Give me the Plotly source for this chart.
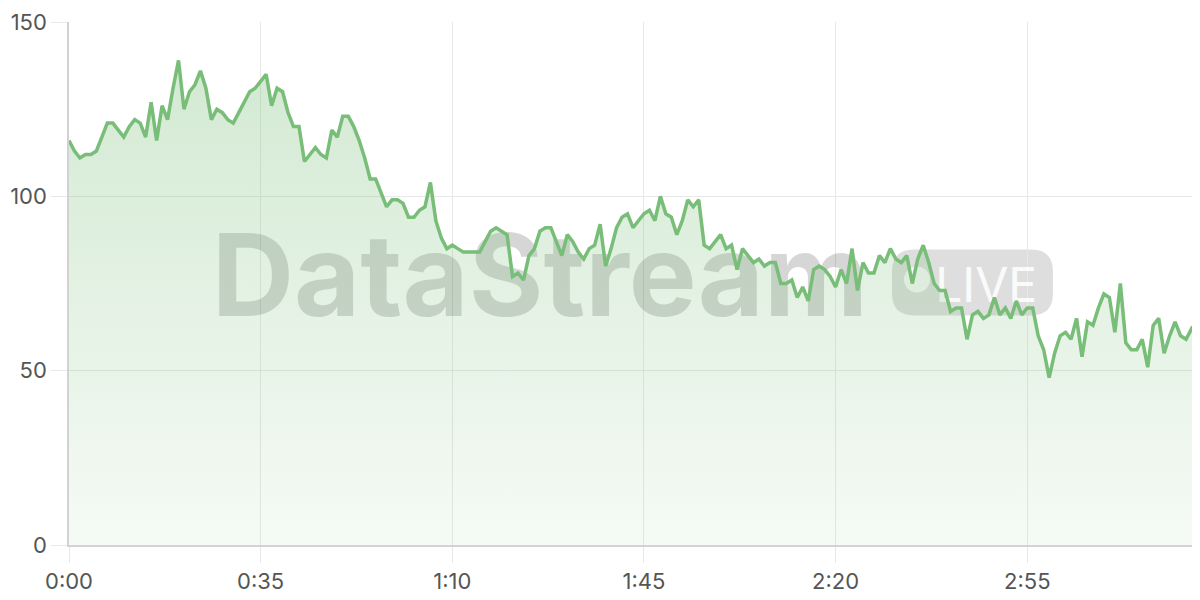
import plotly.graph_objects as go

# seconds since start, one reading per second
seconds = list(range(207))

# readings taken off the stream
readings = [
    116, 113, 111, 112, 112, 113, 117, 121, 121, 119, 117, 120, 122, 121, 117, 127, 116, 126, 122, 131,
    139, 125, 130, 132, 136, 131, 122, 125, 124, 122, 121, 124, 127, 130, 131, 133,
    135, 126, 131, 130, 124, 120, 120, 110, 112, 114, 112, 111, 119, 117, 123, 123, 120, 116, 111, 105,
    105, 101, 97, 99, 99, 98, 94, 94, 96, 97, 104, 93, 88, 85,
    86, 85, 84, 84, 84, 84, 87, 90, 91, 90, 89, 77, 78, 76, 83, 85, 90, 91, 91, 87,
    83, 89, 87, 84, 82, 85, 86, 92, 80, 85, 91, 94, 95, 91, 93,
    95, 96, 93, 100, 95, 94, 89, 93, 99, 97, 99, 86, 85, 87, 89, 85, 86, 79, 85, 83,
    81, 82, 80, 81, 81, 75, 75, 76, 71, 74, 70, 79, 80, 79, 77,
    74, 79, 75, 85, 73, 81, 78, 78, 83, 81, 85, 82, 81, 83, 75, 82, 86, 81, 75, 73,
    73, 67, 68, 68, 59, 66, 67, 65, 66, 71, 66, 68,
    65, 70, 66, 68, 68, 60, 56, 48, 55, 60, 61, 59, 65, 54, 64, 63, 68, 72, 71, 61,
    75, 58, 56, 56, 59, 51, 63, 65, 55, 60, 64, 60, 59, 62, 60,
]

tick_vals = [0, 35, 70, 105, 140, 175]
tick_text = ["0:00", "0:35", "1:10", "1:45", "2:20", "2:55"]
y_ticks = [0, 50, 100, 150]

GREEN = "#78bd78"
FONT = "Inter, Roboto, 'Noto Sans', sans-serif"

fig = go.Figure()

# watermark text, drawn as traces so the data line sits on top
fig.add_trace(
    go.Scatter(
        x=[86.0],
        y=[73.8],
        mode="text",
        text=["DataStream"],
        textposition="middle center",
        textfont=dict(family=FONT, size=114, color="rgba(0,0,0,0.16)", weight="bold"),
        hoverinfo="skip",
        showlegend=False,
    )
)
fig.add_trace(
    go.Scatter(
        x=[167.5],
        y=[73],
        mode="text",
        text=["LIVE"],
        textposition="middle center",
        textfont=dict(family=FONT, size=48, color="rgba(255,255,255,0.9)"),
        hoverinfo="skip",
        showlegend=False,
    )
)

# main area line
fig.add_trace(
    go.Scatter(
        x=seconds,
        y=readings,
        mode="lines",
        line=dict(color=GREEN, width=3.5),
        fill="tozeroy",
        fillgradient=dict(
            type="vertical",
            colorscale=[[0, "rgba(120,189,120,0.07)"], [1, "rgba(120,189,120,0.33)"]],
            start=0,
            stop=140,
        ),
        showlegend=False,
    )
)

# LIVE badge (rounded rect) + dot, paper coords
x0, x1 = 0.7296, 0.8723
y0, y1 = 0.4389, 0.5649
rx, ry = 0.0195, 0.042
badge = (
    f"M {x0 + rx},{y0} L {x1 - rx},{y0} Q {x1},{y0} {x1},{y0 + ry} "
    f"L {x1},{y1 - ry} Q {x1},{y1} {x1 - rx},{y1} "
    f"L {x0 + rx},{y1} Q {x0},{y1} {x0},{y1 - ry} "
    f"L {x0},{y0 + ry} Q {x0},{y0} {x0 + rx},{y0} Z"
)

fig.update_layout(
    width=1200,
    height=600,
    margin=dict(l=61, r=11, t=14, b=63),
    paper_bgcolor="white",
    plot_bgcolor="white",
    showlegend=False,
    shapes=[
        dict(
            type="path",
            path=badge,
            xref="paper",
            yref="paper",
            fillcolor="rgba(0,0,0,0.13)",
            line=dict(width=0),
            layer="below",
        ),
        dict(
            type="circle",
            xref="paper",
            yref="paper",
            x0=0.7402,
            x1=0.7633,
            y0=0.4828,
            y1=0.5324,
            fillcolor="rgba(255,255,255,0.8)",
            line=dict(width=0),
            layer="below",
        ),
    ],
)

fig.update_xaxes(
    range=[0, 206],
    tickvals=tick_vals,
    ticktext=tick_text,
    showgrid=True,
    gridcolor="#e8e8e8",
    gridwidth=1,
    ticks="outside",
    ticklen=16,
    tickcolor="#e8e8e8",
    showline=True,
    linecolor="#d2d2d2",
    linewidth=1.5,
    zeroline=False,
    automargin=False,
    ticklabeloverflow="allow",
    tickfont=dict(family=FONT, size=22, color="#555555"),
)
fig.update_yaxes(
    range=[0, 150],
    tickvals=y_ticks,
    showgrid=True,
    gridcolor="#e8e8e8",
    gridwidth=1,
    ticks="outside",
    ticklen=16,
    tickcolor="#e8e8e8",
    showline=True,
    linecolor="#d2d2d2",
    linewidth=1.5,
    zeroline=False,
    automargin=False,
    ticklabeloverflow="allow",
    tickfont=dict(family=FONT, size=22, color="#555555"),
)

fig.write_html("out.html")
